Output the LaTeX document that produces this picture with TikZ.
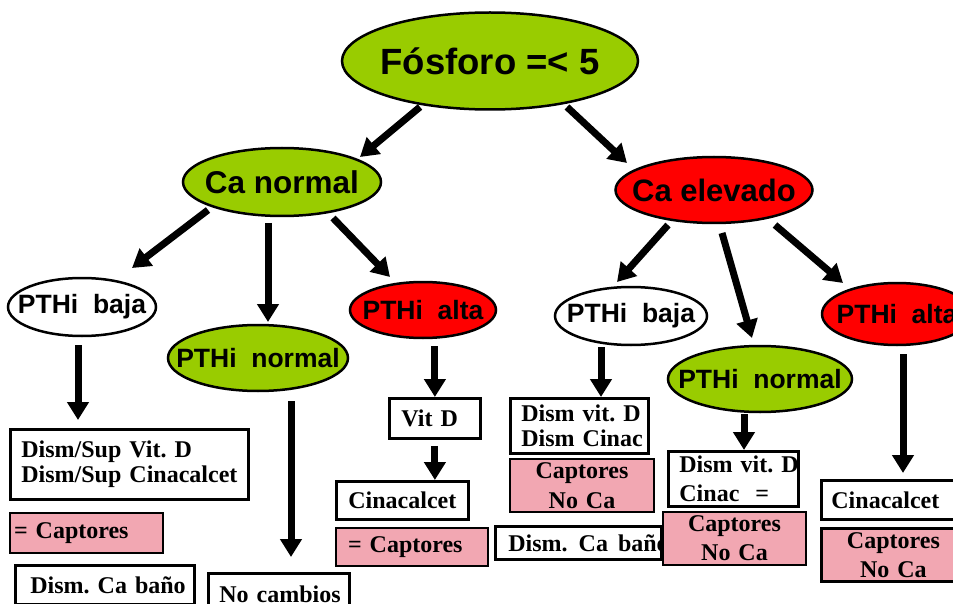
\documentclass[tikz,border=0pt]{standalone}
\usepackage{fontspec}
\setmainfont{Liberation Serif}
\newfontfamily\headfont{Liberation Sans}
\usetikzlibrary{shapes.geometric,arrows.meta,calc}

\definecolor{leafgreen}{RGB}{153,204,0}
\definecolor{alarmred}{RGB}{255,0,0}
\definecolor{notepink}{RGB}{242,167,178}

% label of an oval: zero width so the oval keeps its own size
\newcommand\ovallabel[2]{\makebox[0pt]{\headfont\bfseries\fontsize{#1}{#1}\selectfont #2}}
% one unbreakable line of box text
\newcommand\boxline[1]{\mbox{#1}}

\begin{document}
\frenchspacing
\begin{tikzpicture}[x=1pt,y=-1pt,
  oval/.style={ellipse, draw=black, line width=2.5pt, inner sep=0pt},
  greenoval/.style={oval, fill=leafgreen},
  redoval/.style={oval, fill=alarmred},
  whiteoval/.style={oval, fill=white},
  box/.style={rectangle, draw=black, line width=2.8pt, fill=white,
    anchor=north west, inner ysep=0pt, align=left,
    font=\bfseries\fontsize{24}{25}\selectfont},
  notebox/.style={box, fill=notepink, line width=2pt},
  arr/.style={line width=7pt, -{Triangle[width=21pt,length=18pt]}}
]
\useasboundingbox (0,0) rectangle (953,604);
\clip (0,0) rectangle (953,604);
\fill[white] (0,0) rectangle (953,604);

% ---- ovals ----
\node[greenoval, minimum width=296pt, minimum height=97pt] (fos) at (490,61)
  {\ovallabel{36.5}{Fósforo =< 5}};
\node[greenoval, minimum width=198pt, minimum height=68pt] (canorm) at (282,182)
  {\ovallabel{31.5}{Ca normal}};
\node[redoval, minimum width=197pt, minimum height=66pt] (caelev) at (714,190)
  {\ovallabel{31}{Ca elevado}};

\node[whiteoval, minimum width=148pt, minimum height=58pt] (pbajaL) at (82,307)
  {\ovallabel{26.5}{PTHi~~baja}};
\node[greenoval, minimum width=180pt, minimum height=66pt] (pnormL) at (258,358)
  {\ovallabel{26.5}{PTHi~~normal}};
\node[redoval, minimum width=146pt, minimum height=56pt] (paltaL) at (423,310)
  {\ovallabel{26.5}{PTHi~~alta}};

\node[whiteoval, minimum width=152pt, minimum height=58pt] (pbajaR) at (631,316)
  {\ovallabel{26.5}{PTHi~~baja}};
\node[greenoval, minimum width=184pt, minimum height=66pt] (pnormR) at (760,379)
  {\ovallabel{26.5}{PTHi~~normal}};
\node[redoval, minimum width=150pt, minimum height=62pt] (paltaR) at (897,314)
  {\ovallabel{26.5}{PTHi~~alta}};

% ---- boxes, left branch ----
\node[box, inner xsep=11pt, text width=216pt, minimum height=70pt] (b1) at (9,428)
  {\boxline{Dism/Sup Vit. D}\\\boxline{Dism/Sup Cinacalcet}};
\node[notebox, inner xsep=4pt, text width=145pt, minimum height=40pt] (p1) at (9,512)
  {\boxline{= Captores}};
\node[box, inner xsep=15pt, text width=149pt, minimum height=39pt] (b2) at (14,564)
  {\boxline{Dism. Ca baño}};
\node[box, inner xsep=11pt, text width=119pt, minimum height=42pt] (nocamb) at (207,572)
  {\boxline{No cambios}};

\node[box, inner xsep=12pt, text width=67pt, minimum height=40pt] (vitd) at (388,397)
  {\boxline{Vit D}};
\node[box, inner xsep=12pt, text width=108pt, minimum height=38pt] (cinL) at (335,480)
  {\boxline{Cinacalcet}};
\node[notebox, inner xsep=12pt, text width=128pt, minimum height=38pt] (pcapL) at (335,527)
  {\boxline{= Captores}};

% ---- boxes, right branch ----
\node[box, inner xsep=11pt, text width=116pt, minimum height=55pt] (dismR1) at (509,397)
  {\boxline{Dism vit. D}\\\boxline{Dism Cinac}};
\node[notebox, inner xsep=4pt, text width=136pt, minimum height=53pt, align=center,
  font=\bfseries\fontsize{24}{30}\selectfont] (pcapR1) at (509,458)
  {\boxline{Captores}\\\boxline{No Ca}};
\node[box, inner xsep=13pt, text width=140pt, minimum height=33pt] (banoR) at (494,525)
  {\boxline{Dism.\hspace{3pt} Ca\hspace{2pt} baño}};

\node[box, inner xsep=11pt, text width=108pt, minimum height=55pt,
  font=\bfseries\fontsize{24}{29}\selectfont] (dismR2) at (667,450)
  {\boxline{Dism vit. D}\\\boxline{Cinac~~=}};
\node[notebox, inner xsep=4pt, text width=135pt, minimum height=53pt, align=center,
  font=\bfseries\fontsize{24}{29}\selectfont] (pcapR2) at (662,511)
  {\boxline{Captores}\\\boxline{No Ca}};

\node[box, inner xsep=10pt, text width=124pt, minimum height=39pt] (cinR) at (820,479)
  {\boxline{Cinacalcet}};
\node[notebox, line width=2.8pt, inner xsep=4pt, text width=136pt, minimum height=53pt,
  align=center, font=\bfseries\fontsize{24}{29}\selectfont] (pcapR3) at (820,527)
  {\boxline{Captores}\\\boxline{No Ca}};

% ---- connectors ----
\draw[arr] ($(fos)+(-70,46)$) -- ($(canorm)+(78,-25)$);
\draw[arr] ($(fos)+(77,46)$) -- ($(caelev)+(-87,-27)$);

\draw[arr] ($(canorm)+(-74,28)$) -- ($(pbajaL)+(50,-39)$);
\draw[arr] ($(canorm)+(-14,41)$) -- ($(pnormL)+(10,-36)$);
\draw[arr] ($(canorm)+(51,36)$) -- ($(paltaL)+(-33,-33)$);

\draw[arr] ($(caelev)+(-46,35)$) -- ($(pbajaR)+(-14,-34)$);
\draw[arr] ($(caelev)+(8,43)$) -- ($(pnormR)+(-8,-41)$);
\draw[arr] ($(caelev)+(61,35)$) -- ($(paltaR)+(-54,-31)$);

\draw[arr] ($(pbajaL.south)+(-4,8)$) -- ($(b1.north west)+(69,-8)$);
\draw[arr] ($(pnormL.south)+(33,9)$) -- ($(nocamb.north west)+(84,-15)$);
\draw[arr] ($(paltaL.south -| vitd.north)+(0,7)$) -- (vitd.north);
\draw[arr] ($(vitd.south)+(0,6)$) -- (vitd.south |- cinL.north);

\draw[arr] ($(pbajaR.south)+(-30,1)$) -- ($(dismR1.north west)+(92,0)$);
\draw[arr] ($(pnormR.south)+(-16,1)$) -- ($(dismR2.north west)+(77,0)$);
\draw[arr] ($(paltaR.south)+(6,8)$) -- ($(cinR.north west)+(83,-6)$);
\end{tikzpicture}
\end{document}
